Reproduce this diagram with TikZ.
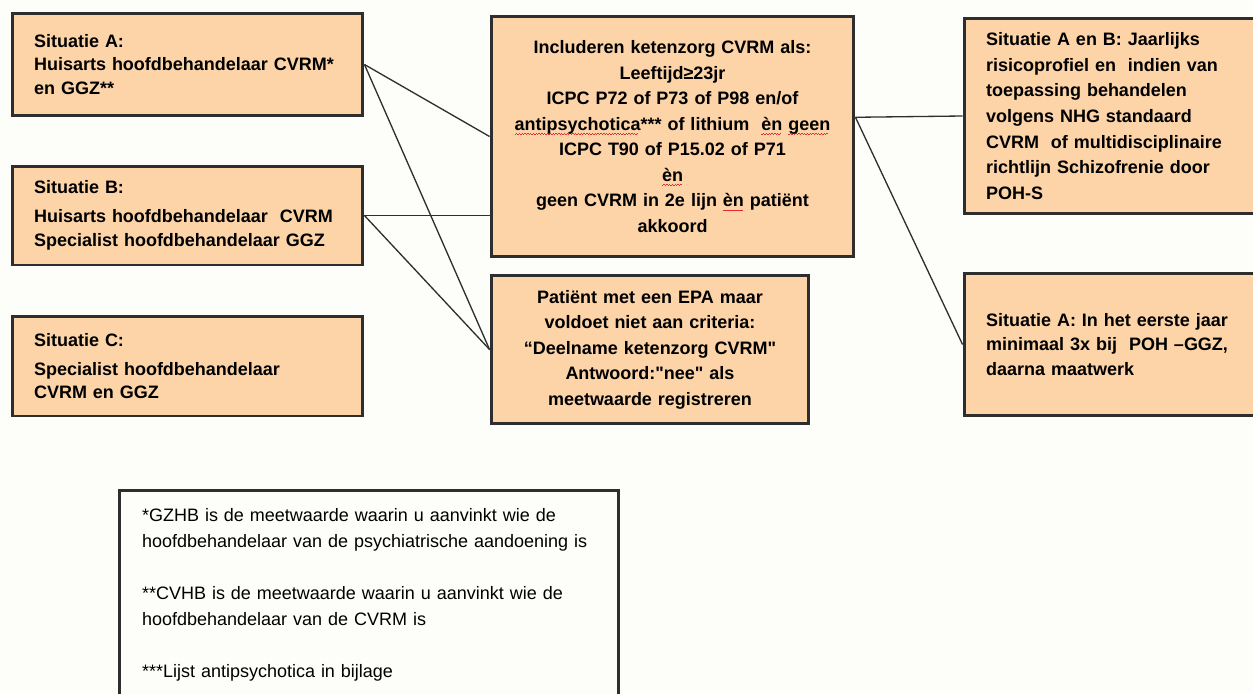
\documentclass[tikz,border=0pt]{standalone}
\usepackage{fontspec}
\usetikzlibrary{positioning}
\newfontfamily\boxfont{Liberation Sans}
\definecolor{boxfill}{RGB}{252,212,168}
\definecolor{boxline}{RGB}{46,46,46}
\definecolor{pagebg}{RGB}{253,253,250}
\definecolor{spellred}{RGB}{225,45,45}
\newsavebox\spellbox
\newcommand\spellwave[1]{\leavevmode\sbox\spellbox{#1}%
  \rlap{\textcolor{spellred}{\raisebox{-2.6pt}[0pt][0pt]{\hbox to\wd\spellbox{%
    \leaders\hbox to 1.6pt{\rule{0.8pt}{0.45pt}\raisebox{0.5pt}{\rule{0.8pt}{0.45pt}}}\hfil}}}}#1}
\tikzset{
  sitbox/.style={draw=boxline, line width=1.7pt, fill=boxfill, inner xsep=0.44cm,
    align=left, font=\boxfont\bfseries\fontsize{10.24}{13.4}\selectfont},
  critbox/.style={draw=boxline, line width=1.7pt, fill=boxfill, inner xsep=0.18cm,
    align=center, font=\boxfont\bfseries\fontsize{10.24}{14.5}\selectfont},
  notebox/.style={draw=boxline, line width=1.7pt, fill=pagebg, inner xsep=0.46cm,
    align=left, font=\boxfont\fontsize{10.24}{14.8}\selectfont},
  link/.style={draw=boxline, line width=0.75pt}
}

\begin{document}
\begin{tikzpicture}[x=0.02cm,y=-0.02cm]
\fill[pagebg] (0,0) rectangle (1253,693);
\clip (0,0) rectangle (1253,693);

\node[sitbox, text width=6.14cm, minimum height=2.04cm] (sita) at (187.5,64.5)
  {Situatie A:\\Huisarts hoofdbehandelaar CVRM*\\en GGZ**};
\node[sitbox, text width=6.14cm, minimum height=1.98cm] (sitb) at (187.5,215.5)
  {Situatie B:\\[3pt]Huisarts hoofdbehandelaar\ \ CVRM\\Specialist hoofdbehandelaar GGZ};
\node[sitbox, text width=6.14cm, minimum height=2cm] (sitc) at (187.5,366)
  {Situatie C:\\[3pt]Specialist hoofdbehandelaar\\CVRM en GGZ};

\node[critbox, text width=6.9cm, minimum height=4.82cm] (incl) at (672.5,136.5)
  {Includeren ketenzorg CVRM als:\\Leeftijd≥23jr\\ICPC P72 of P73 of P98 en/of\\
   \spellwave{antipsychotica}*** of lithium\ \ \spellwave{èn} \spellwave{geen}\\
   ICPC T90 of P15.02 of P71\\\spellwave{èn}\\
   geen CVRM in 2e lijn \spellwave{èn} patiënt\\akkoord};
\node[critbox, text width=6.0cm, minimum height=2.98cm] (epa) at (650,349.5)
  {Patiënt met een EPA maar\\voldoet niet aan criteria:\\“Deelname ketenzorg CVRM"\\
   Antwoord:"nee" als\\meetwaarde registreren};

\node[sitbox, font=\boxfont\bfseries\fontsize{10.24}{14.6}\selectfont,
  text width=5.32cm, minimum height=3.92cm] (rt) at (1119,116)
  {Situatie A en B:\ Jaarlijks\\risicoprofiel en\ \ indien van\\toepassing behandelen\\
   volgens NHG standaard\\CVRM\ \ of multidisciplinaire\\richtlijn Schizofrenie door\\POH-S};
\node[sitbox, font=\boxfont\bfseries\fontsize{10.24}{14}\selectfont,
  text width=5.32cm, minimum height=2.86cm] (rb) at (1119,344.5)
  {Situatie A: In het eerste jaar\\minimaal 3x bij\ \ POH –GGZ,\\daarna maatwerk};

\node[notebox, text width=9.08cm, minimum height=4.2cm] (note) at (369,595)
  {*GZHB is de meetwaarde waarin u aanvinkt wie de\\
   hoofdbehandelaar van de psychiatrische aandoening is\\[14.8pt]
   **CVHB is de meetwaarde waarin u aanvinkt wie de\\
   hoofdbehandelaar van de CVRM is\\[14.8pt]
   ***Lijst antipsychotica in bijlage};

\draw[link] (sita.east) -- (incl.west);
\draw[link] (sita.east) -- (epa.west);
\draw[link] (sitb.east) -- (sitb.east -| incl.west);
\draw[link] (sitb.east) -- (epa.west);
\draw[link] (incl.6) -- (rt.west);
\draw[link] (incl.6) -- (rb.west);
\end{tikzpicture}
\end{document}
